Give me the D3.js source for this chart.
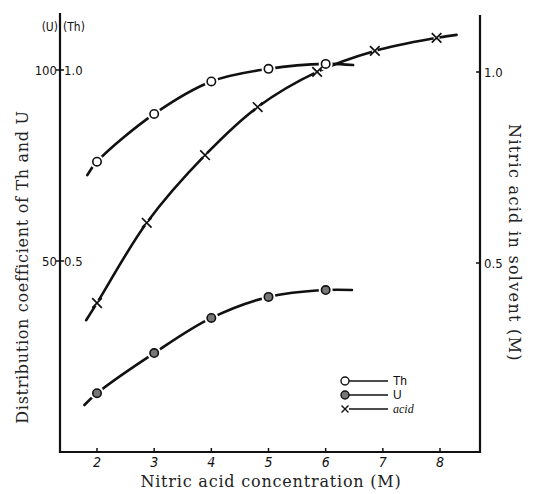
<!DOCTYPE html>
<html>
<head>
<meta charset="utf-8">
<script src="https://cdn.jsdelivr.net/npm/d3@7"></script>
<style>
  body { margin: 0; background: #fff; }
  svg { display: block; }
  .title { font-family: "DejaVu Serif", "Liberation Serif", serif; font-size: 16px; fill: #222; }
  .tick-lab { font-family: "Liberation Sans Narrow", "DejaVu Sans Condensed", sans-serif; font-size: 13px; fill: #111; }
</style>
</head>
<body>
<div id="chart"></div>
<script>
// values
var concentration = [2, 3, 4, 5, 6];
var thValues = [0.76, 0.885, 0.97, 1.003, 1.016];
var uValues = [15.4, 25.9, 35.1, 40.6, 42.4];

var acidX = [2.0, 2.87, 3.89, 4.81, 5.85, 6.86, 7.94];
var acidValues = [0.39, 0.60, 0.777, 0.903, 0.995, 1.05, 1.084];

// where the drawn curves start and stop beyond the points
var thEnds = [[1.83, 0.725], [6.48, 1.013]];
var uEnds = [[1.78, 12.3], [6.46, 42.4]];
var acidEnds = [[1.81, 0.345], [8.29, 1.092]];

var xTickValues = [2, 3, 4, 5, 6, 7, 8];
var leftTicks = [{v: 0.5, u: "50", th: "0.5"}, {v: 1.0, u: "100", th: "1.0"}];
var rightTicks = [0.5, 1.0];

var W = 534, H = 494;
var svg = d3.select("#chart").append("svg").attr("width", W).attr("height", H);

var x = d3.scaleLinear().domain([2, 8]).range([97, 440]);
var y = d3.scaleLinear().domain([0, 1]).range([452, 70]);
var yU = d3.scaleLinear().domain([0, 100]).range([452, 70]);

var leftX = 60, rightX = 480, bottomY = 452;

// axes frame
svg.append("line").attr("x1", leftX).attr("x2", leftX).attr("y1", 13).attr("y2", bottomY + 1)
    .attr("stroke", "#111").attr("stroke-width", 2.2);
svg.append("line").attr("x1", rightX).attr("x2", rightX).attr("y1", 15).attr("y2", bottomY + 1)
    .attr("stroke", "#111").attr("stroke-width", 2.2);
svg.append("line").attr("x1", leftX - 1).attr("x2", rightX + 1).attr("y1", bottomY).attr("y2", bottomY)
    .attr("stroke", "#111").attr("stroke-width", 2.2);

// bottom ticks
var xg = svg.append("g");
xTickValues.forEach(function(v) {
    xg.append("line").attr("x1", x(v)).attr("x2", x(v)).attr("y1", bottomY).attr("y2", bottomY - 4)
        .attr("stroke", "#111").attr("stroke-width", 1.5);
    xg.append("text").attr("class", "tick-lab").attr("x", x(v)).attr("y", bottomY + 15)
        .attr("text-anchor", "middle").style("font-size", "14px").style("font-style", "italic")
        .text(v);
});

// left ticks
leftTicks.forEach(function(t) {
    var yy = y(t.v);
    svg.append("line").attr("x1", leftX - 4).attr("x2", leftX + 4).attr("y1", yy).attr("y2", yy)
        .attr("stroke", "#111").attr("stroke-width", 1.5);
    svg.append("text").attr("class", "tick-lab").attr("x", leftX - 3).attr("y", yy + 5)
        .attr("text-anchor", "end").text(t.u);
    svg.append("text").attr("class", "tick-lab").attr("x", leftX + 4).attr("y", yy + 5)
        .text(t.th);
});
svg.append("text").attr("class", "tick-lab").attr("x", leftX - 2).attr("y", 31)
    .attr("text-anchor", "end").style("font-size", "12px").text("(U)");
svg.append("text").attr("class", "tick-lab").attr("x", leftX + 3).attr("y", 31)
    .style("font-size", "12px").text("(Th)");

// right ticks
rightTicks.forEach(function(v) {
    var yy = y(v) + 2;
    svg.append("line").attr("x1", rightX - 4).attr("x2", rightX).attr("y1", yy).attr("y2", yy)
        .attr("stroke", "#111").attr("stroke-width", 1.5);
    svg.append("text").attr("class", "tick-lab").attr("x", rightX + 4).attr("y", yy + 5)
        .text(d3.format(".1f")(v));
});

// titles
svg.append("text").attr("class", "title")
    .attr("transform", "translate(28,267) rotate(-90)")
    .attr("text-anchor", "middle")
    .style("letter-spacing", "0.7px")
    .text("Distribution coefficient of Th and U");
svg.append("text").attr("class", "title")
    .attr("transform", "translate(509,243) rotate(90)")
    .attr("text-anchor", "middle")
    .style("letter-spacing", "1.3px")
    .text("Nitric acid in solvent (M)");
svg.append("text").attr("class", "title").attr("x", 271).attr("y", 487)
    .attr("text-anchor", "middle")
    .style("letter-spacing", "0.8px")
    .text("Nitric acid concentration (M)");

// curves
var curveG = svg.append("g");
function drawCurve(pts, ys) {
    var line = d3.line().x(d => x(d[0])).y(d => ys(d[1])).curve(d3.curveCatmullRom.alpha(0.5));
    curveG.append("path").attr("d", line(pts)).attr("fill", "none")
        .attr("stroke", "#111").attr("stroke-width", 2.6).attr("stroke-linecap", "round");
}
var thPts = [thEnds[0]].concat(concentration.map((c, i) => [c, thValues[i]]), [thEnds[1]]);
var uPts = [uEnds[0]].concat(concentration.map((c, i) => [c, uValues[i]]), [uEnds[1]]);
var acidPts = [acidEnds[0]].concat(acidX.map((c, i) => [c, acidValues[i]]), [acidEnds[1]]);
drawCurve(thPts, y);
drawCurve(uPts, yU);
drawCurve(acidPts, y);

// markers, with a white gap around each
var markG = svg.append("g");
function circleMark(cx, cy, filled) {
    markG.append("circle").attr("cx", cx).attr("cy", cy).attr("r", 7).attr("fill", "#fff");
    markG.append("circle").attr("cx", cx).attr("cy", cy).attr("r", 4.2)
        .attr("fill", filled ? "#777" : "#fff").attr("stroke", "#111").attr("stroke-width", 1.6);
}
function crossMark(cx, cy) {
    markG.append("circle").attr("cx", cx).attr("cy", cy).attr("r", 3).attr("fill", "#fff");
    var s = 4.8;
    markG.append("path").attr("d", "M" + (cx - s) + "," + (cy - s) + "L" + (cx + s) + "," + (cy + s) +
        "M" + (cx + s) + "," + (cy - s) + "L" + (cx - s) + "," + (cy + s))
        .attr("stroke", "#111").attr("stroke-width", 1.7);
}
concentration.forEach(function(c, i) {
    circleMark(x(c), y(thValues[i]), false);
    circleMark(x(c), yU(uValues[i]), true);
});
acidX.forEach(function(c, i) { crossMark(x(c), y(acidValues[i])); });

// legend
var legendItems = [{name: "Th", type: "open"}, {name: "U", type: "filled"}, {name: "acid", type: "cross"}];
var lg = svg.append("g").attr("transform", "translate(345,381)");
legendItems.forEach(function(d, i) {
    var yy = i * 14;
    lg.append("line").attr("x1", 4).attr("x2", 43).attr("y1", yy).attr("y2", yy)
        .attr("stroke", "#111").attr("stroke-width", 1.3);
    if (d.type == "cross") {
        var s = 3.5;
        lg.append("path").attr("d", "M" + (-s) + "," + (yy - s) + "L" + s + "," + (yy + s) +
            "M" + s + "," + (yy - s) + "L" + (-s) + "," + (yy + s))
            .attr("stroke", "#111").attr("stroke-width", 1.4);
    } else {
        lg.append("circle").attr("cx", 0).attr("cy", yy).attr("r", 4)
            .attr("fill", d.type == "filled" ? "#777" : "#fff").attr("stroke", "#111").attr("stroke-width", 1.4);
    }
    lg.append("text").attr("x", 48).attr("y", yy + 4)
        .style("font-family", d.type == "cross" ? "'Liberation Serif', serif" : "'Liberation Sans Narrow', sans-serif")
        .style("font-style", d.type == "cross" ? "italic" : "normal")
        .style("font-size", "12px").attr("fill", "#111").text(d.name);
});
</script>
</body>
</html>
